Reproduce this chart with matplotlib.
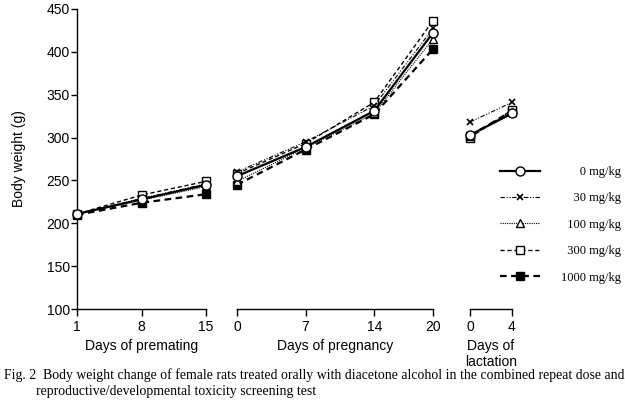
import matplotlib
matplotlib.use('Agg')
import matplotlib.pyplot as plt
from matplotlib.lines import Line2D

doses = ['0', '30', '100', '300', '1000']

premating_days = [1, 8, 15]
pregnancy_days = [0, 7, 14, 20]
lactation_days = [0, 4]

premating_0 = [211, 228, 245]
premating_30 = [211, 229, 246]
premating_100 = [211, 227, 243]
premating_300 = [211, 233, 249]
premating_1000 = [210, 224, 234]

pregnancy_0 = [255, 289, 331, 422]
pregnancy_30 = [260, 295, 337, 427]
pregnancy_100 = [249, 288, 328, 415]
pregnancy_300 = [258, 293, 341, 436]
pregnancy_1000 = [245, 286, 327, 403]

lactation_0 = [303, 328]
lactation_30 = [318, 341]
lactation_100 = [302, 330]
lactation_300 = [300, 332]
lactation_1000 = [302, 331]

y_ticks = [100, 150, 200, 250, 300, 350, 400, 450]

premating = {'0': premating_0, '30': premating_30, '100': premating_100,
             '300': premating_300, '1000': premating_1000}
pregnancy = {'0': pregnancy_0, '30': pregnancy_30, '100': pregnancy_100,
             '300': pregnancy_300, '1000': pregnancy_1000}
lactation = {'0': lactation_0, '30': lactation_30, '100': lactation_100,
             '300': lactation_300, '1000': lactation_1000}

styles = {
    '0': dict(ls='-', lw=1.6, marker='o', mfc='white', mec='black', ms=6.5, mew=1.0),
    '30': dict(ls=(0, (4, 1.5, 1, 1.5, 1, 1.5)), lw=0.8, marker='x', mec='black', ms=5, mew=1.2),
    '100': dict(ls=(0, (1, 1)), lw=0.8, marker='^', mfc='white', mec='black', ms=5.5, mew=1.0),
    '300': dict(ls=(0, (3, 2)), lw=1.0, marker='s', mfc='white', mec='black', ms=6, mew=1.0),
    '1000': dict(ls=(0, (3, 2)), lw=1.6, marker='s', mfc='black', mec='black', ms=6, mew=1.0),
}
draw_order = ['1000', '300', '100', '30', '0']

sans = ['Liberation Sans', 'DejaVu Sans']
serif = ['Liberation Serif', 'DejaVu Serif']
plt.rcParams['font.family'] = sans

W, H = 625, 400
fig = plt.figure(figsize=(6.25, 4.0), dpi=100)

bottom = 1 - 309.3 / H
top = 1 - 8.7 / H
height = top - bottom

ax1 = fig.add_axes([77 / W, bottom, (206 - 77) / W, height])
ax2 = fig.add_axes([237 / W, bottom, (433 - 237) / W, height])
ax3 = fig.add_axes([470 / W, bottom, (512 - 470) / W, height])

segments = [(ax1, premating_days, premating), (ax2, pregnancy_days, pregnancy),
            (ax3, lactation_days, lactation)]

for ax, days, data in segments:
    for d in draw_order:
        ax.plot(days, data[d], color='black', clip_on=False, zorder=3, **styles[d])
    ax.set_xlim(days[0], days[-1])
    ax.set_xticks(days)
    ax.set_ylim(100, 450)
    ax.set_facecolor('none')
    for s in ['top', 'right']:
        ax.spines[s].set_visible(False)
    ax.spines['bottom'].set_linewidth(1.0)
    ax.tick_params(axis='x', direction='out', length=5, width=1.0, pad=3, labelsize=10)
    if ax is ax1:
        ax.set_yticks(y_ticks)
        ax.tick_params(axis='y', direction='out', length=4, width=1.0, pad=1, labelsize=10)
        ax.spines['left'].set_linewidth(1.0)
    else:
        ax.spines['left'].set_visible(False)
        ax.set_yticks([])

ax1.set_ylabel('Body weight (g)', fontsize=10, labelpad=15)
ax1.set_xlabel('Days of premating', fontsize=10, labelpad=3)
ax2.set_xlabel('Days of pregnancy', fontsize=10, labelpad=3)
ax3.set_xlabel('Days of\nlactation', fontsize=10, labelpad=3, linespacing=1.25)

FS = '\u2007'
labels = []
for d in doses:
    pad = FS * (4 - len(d))
    labels.append(pad + d + ' mg/kg')
handles = [Line2D([], [], color='black', **styles[d]) for d in doses]
fig.legend(handles, labels, loc='upper left', bbox_to_anchor=(500 / W, 1 - 166 / H),
           frameon=False, borderpad=0, borderaxespad=0, handlelength=3.2,
           handletextpad=1.65, labelspacing=1.15,
           prop={'family': serif, 'size': 9})

fig.text(4 / W, 1 - 379 / H,
         'Fig. 2  Body weight change of female rats treated orally with diacetone alcohol in the combined repeat dose and',
         family=serif, fontsize=9.9, va='baseline', ha='left')
fig.text(36 / W, 1 - 395 / H,
         'reproductive/developmental toxicity screening test',
         family=serif, fontsize=9.9, va='baseline', ha='left')

fig.savefig('out.png', dpi=100)
